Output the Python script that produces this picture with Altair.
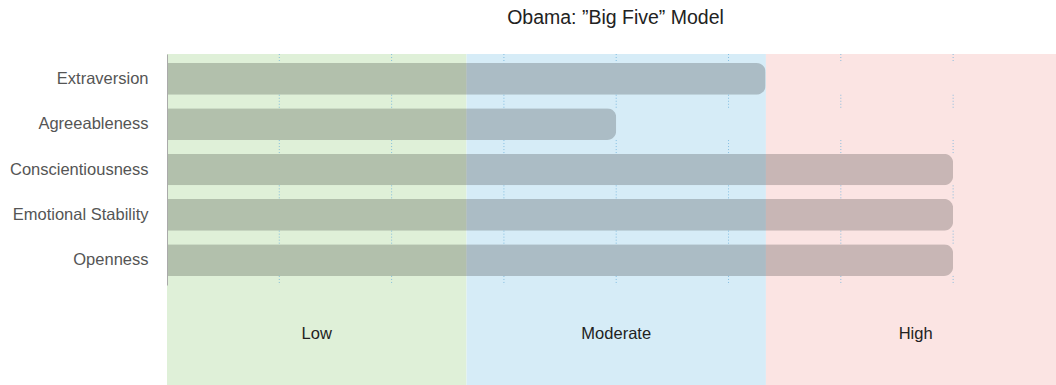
import altair as alt
import pandas as pd

# ---- data ----
traits = ["Extraversion", "Agreeableness", "Conscientiousness", "Emotional Stability", "Openness"]
scores = [5.33, 4.0, 7.0, 7.0, 7.0]

levels = ["Low", "Moderate", "High"]
level_start = [0.0, 2.667, 5.333]
level_end = [2.667, 5.333, 8.0]
level_colors = ["#dff0d8", "#d6ecf7", "#fbe4e3"]

grid_ticks = [1, 2, 3, 4, 5, 6, 7]

trait_df = pd.DataFrame({"trait": traits, "score": scores})
band_df = pd.DataFrame({
    "level": levels,
    "start": level_start,
    "end": level_end,
    "mid": [(a + b) / 2 for a, b in zip(level_start, level_end)],
})
grid_all = pd.DataFrame([(t, v) for t in traits for v in grid_ticks], columns=["trait", "v"])
grid_inner = grid_all[grid_all["trait"] != traits[-1]]
grid_first = grid_all[grid_all["trait"] == traits[0]]
grid_last = grid_all[grid_all["trait"] == traits[-1]]

FONT = "Liberation Sans"
PLOT_W = 889
PLOT_H = 331
ROWS_H = 231
P_INNER = 0.3
P_OUTER = 0.2
STEP = ROWS_H / (len(traits) - P_INNER + 2 * P_OUTER)
GAP_IN = STEP * P_INNER
GAP_OUT = STEP * P_OUTER

xscale = alt.Scale(domain=[0, 7.916], nice=False, zero=True)
yscale = alt.Scale(range=[0, ROWS_H], paddingInner=P_INNER, paddingOuter=P_OUTER)
y_axis = alt.Axis(
    title=None,
    ticks=False,
    labelPadding=19,
    labelFontSize=16.5,
    labelFont=FONT,
    labelColor="#555555",
    domainColor="#aaaaaa",
    domainWidth=1,
    grid=False,
    zindex=1,
)

bands = alt.Chart(band_df).mark_rect(clip=True).encode(
    x=alt.X("start:Q", scale=xscale, axis=None),
    x2="end:Q",
    y=alt.value(0),
    y2=alt.value(PLOT_H),
    color=alt.Color("level:N", scale=alt.Scale(domain=levels, range=level_colors), legend=None),
)

bars = alt.Chart(trait_df).mark_bar(color="black", opacity=0.2, cornerRadiusEnd=9).encode(
    x=alt.X("score:Q", scale=xscale, axis=None),
    y=alt.Y("trait:N", sort=traits, scale=yscale, axis=y_axis),
)

rule_style = dict(strokeDash=[1, 2], color="#6fb3dc", opacity=0.8, strokeWidth=1)


def gap_rules(df, band_pos, **offsets):
    return alt.Chart(df).mark_rule(**rule_style, **offsets).encode(
        x=alt.X("v:Q", scale=xscale, axis=None),
        y=alt.Y("trait:N", sort=traits, scale=yscale, bandPosition=band_pos, axis=y_axis),
        y2=alt.Y2("trait:N", bandPosition=band_pos),
    )


grid_a = gap_rules(grid_inner, 1, y2Offset=GAP_IN)
grid_b = gap_rules(grid_first, 0, yOffset=-GAP_OUT)
grid_c = gap_rules(grid_last, 1, y2Offset=GAP_OUT)

labels = alt.Chart(band_df).mark_text(fontSize=16.5, font=FONT, color="#222222", baseline="middle").encode(
    x=alt.X("mid:Q", scale=xscale, axis=None),
    y=alt.value(280),
    text="level:N",
)

chart = alt.layer(bands, bars, grid_a, grid_b, grid_c, labels).properties(
    width=PLOT_W,
    height=PLOT_H,
    title=alt.TitleParams(
        "Obama: \u201dBig Five\u201d Model",
        fontSize=19.5,
        font=FONT,
        fontWeight="normal",
        color="#222222",
        anchor="middle",
        offset=25,
        dx=4,
    ),
    padding={"left": 167, "top": 54, "right": 0, "bottom": 0},
    autosize=alt.AutoSizeParams(type="none"),
).configure_view(stroke=None)

chart.save("out.html", embed_options={"renderer": "svg", "actions": False})
